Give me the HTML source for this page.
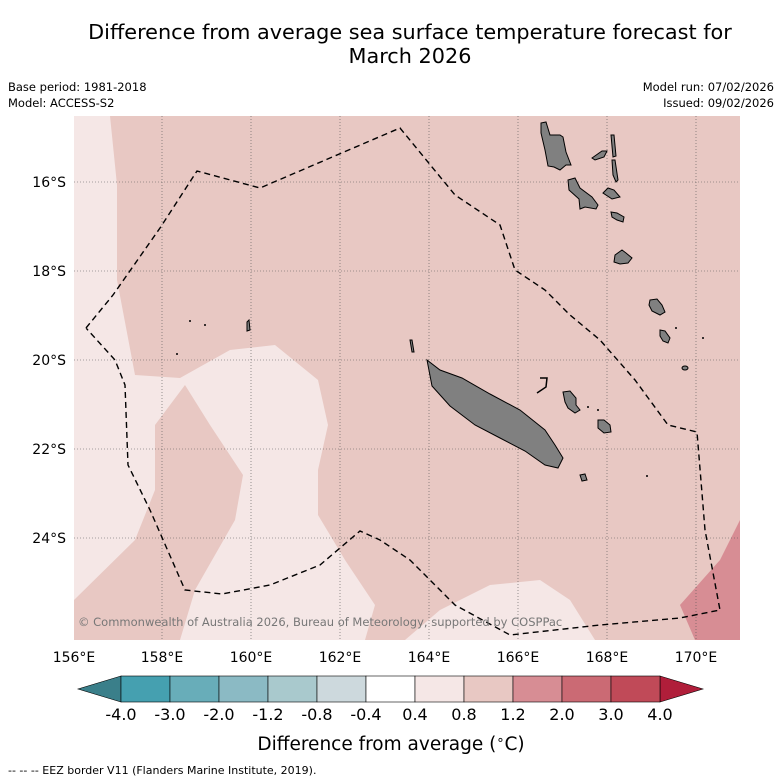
<!DOCTYPE html>
<html><head><meta charset="utf-8"><style>
body{margin:0;background:#fff;font-family:"Liberation Sans","DejaVu Sans",sans-serif;}
svg{display:block}
</style></head><body>
<svg width="781" height="781" viewBox="0 0 781 781" xmlns="http://www.w3.org/2000/svg" font-family="DejaVu Sans, Liberation Sans, sans-serif">
<text x="410" y="39" text-anchor="middle" font-size="20.8">Difference from average sea surface temperature forecast for</text>
<text x="410" y="63" text-anchor="middle" font-size="20.8">March 2026</text>
<text x="8" y="91" font-size="11.5">Base period: 1981-2018</text>
<text x="8" y="107" font-size="11.5">Model: ACCESS-S2</text>
<text x="774" y="91" font-size="11.5" text-anchor="end">Model run: 07/02/2026</text>
<text x="774" y="107" font-size="11.5" text-anchor="end">Issued: 09/02/2026</text>

<g id="map">
<rect x="74" y="116" width="666" height="524" fill="#e8c8c3"/>
<clipPath id="c"><rect x="74" y="116" width="666" height="524"/></clipPath>
<g clip-path="url(#c)">
<polygon fill="#f5e7e6" points="74,116 110,116 117,185 117,280 135,375 180,378 230,350 275,345 318,380 328,425 318,470 318,515 345,560 375,605 365,640 74,640"/>
<polygon fill="#e8c8c3" points="74,600 135,540 155,490 155,425 185,385 210,425 243,475 235,520 195,590 180,640 74,640"/>
<polygon fill="#f5e7e6" points="405,640 440,610 490,585 540,580 570,600 595,640"/>
<polygon fill="#d78d94" points="680,605 720,560 740,520 740,640 695,640"/>
<g stroke="#555" stroke-width="0.6" stroke-dasharray="1,2">
<line x1="162" y1="116" x2="162" y2="640"/><line x1="251" y1="116" x2="251" y2="640"/><line x1="340" y1="116" x2="340" y2="640"/><line x1="429" y1="116" x2="429" y2="640"/><line x1="518" y1="116" x2="518" y2="640"/><line x1="607" y1="116" x2="607" y2="640"/><line x1="696" y1="116" x2="696" y2="640"/>
<line x1="74" y1="182" x2="740" y2="182"/><line x1="74" y1="271" x2="740" y2="271"/><line x1="74" y1="360" x2="740" y2="360"/><line x1="74" y1="449" x2="740" y2="449"/><line x1="74" y1="538" x2="740" y2="538"/>
</g>
<g fill="#808080" stroke="#000" stroke-width="1">
<polygon points="427,360 440,370 462,378 490,394 520,410 545,430 555,445 563,458 558,468 545,465 525,451 500,438 475,425 450,406 432,386"/>
<polygon points="541,123 546,122 550,135 560,135 563,137 566,152 571,165 566,165 560,170 554,167 548,166 545,150 541,133"/>
<polygon points="568,180 575,178 580,188 592,197 598,205 596,209 585,207 580,209 579,199 569,190"/>
<polygon points="592,158 602,151 607,151 604,157 595,160"/>
<polygon points="611,135 614,135 616,156 613,157"/>
<polygon points="612,160 615,160 618,180 616,182 613,175"/>
<polygon points="603,193 608,188 614,190 620,197 612,199"/>
<polygon points="611,212 617,213 624,217 623,222 617,220 612,217"/>
<polygon points="615,255 622,250 626,253 632,258 628,263 620,264 614,262"/>
<polygon points="650,300 657,299 662,305 665,312 660,315 652,311 649,305"/>
<polygon points="660,330 665,331 670,338 668,343 663,341 660,336"/>
<ellipse cx="685" cy="368" rx="3" ry="2"/>
<polygon points="563,392 570,391 576,398 576,405 580,410 575,413 568,408 565,402"/>
<polygon points="598,420 604,420 610,425 611,432 604,433 598,428"/>
<polygon points="580,475 585,474 587,480 582,481"/>
<polygon points="247,322 249,320 250,330 247,331"/>
<polygon points="410,340 412,340 414,352 412,352"/>
</g>
<path d="M540,378 L547,378 L546,387 L537,393" fill="none" stroke="#000" stroke-width="1.5"/>
<g fill="#000"><circle cx="190" cy="321" r="1"/><circle cx="205" cy="325" r="1"/><circle cx="177" cy="354" r="1"/><circle cx="676" cy="328" r="1"/><circle cx="703" cy="338" r="1"/><circle cx="647" cy="476" r="1"/><circle cx="598" cy="410" r="1"/><circle cx="588" cy="407" r="1"/></g>
<polyline fill="none" stroke="#000" stroke-width="1.4" stroke-dasharray="6,4" points="86,328 113,295 160,228 197,171 260,188 400,128 455,195 500,225 515,270 545,290 570,315 600,340 635,380 668,425 697,432 705,530 720,610 680,618 600,625 510,635 455,605 410,560 380,540 360,531 320,565 270,585 222,594 185,590 150,510 128,465 125,385 115,360 86,328"/>
</g>
<text x="78" y="626" font-size="11.5" fill="#777">© Commonwealth of Australia 2026, Bureau of Meteorology, supported by COSPPac</text>
</g>

<g font-size="14">
<text x="66" y="187" text-anchor="end">16°S</text><text x="66" y="276" text-anchor="end">18°S</text><text x="66" y="365" text-anchor="end">20°S</text><text x="66" y="454" text-anchor="end">22°S</text><text x="66" y="543" text-anchor="end">24°S</text>
</g>
<g font-size="14" text-anchor="middle">
<text x="74" y="662">156°E</text><text x="162" y="662">158°E</text><text x="251" y="662">160°E</text><text x="340" y="662">162°E</text><text x="429" y="662">164°E</text><text x="518" y="662">166°E</text><text x="607" y="662">168°E</text><text x="696" y="662">170°E</text>
</g>

<g id="cbar"></g>
<text x="391" y="750" text-anchor="middle" font-size="18.5">Difference from average (<tspan font-size="13" dy="-6">∘</tspan><tspan dy="6">C)</tspan></text>
<text x="8" y="774" font-size="11">--  --  -- EEZ border V11 (Flanders Marine Institute, 2019).</text>
</svg>
<script>
const levelLabels=["-4.0","-3.0","-2.0","-1.2","-0.8","-0.4","0.4","0.8","1.2","2.0","3.0","4.0"];
const boxColors=["#45a0b0","#68adb9","#8bbac4","#a9c9cd","#cdd9dd","#ffffff","#f5e7e6","#e8c8c3","#d78d94","#cb6a74","#c04a58"];
const extColors=["#3a7f8a","#b01e3a"];
const NS="http://www.w3.org/2000/svg";
const g=document.getElementById('cbar');
const x0=121,x1=660,y0=676,y1=702;
const step=(x1-x0)/(levelLabels.length-1);
function bx(i){return x0+i*step;}
const lt=document.createElementNS(NS,'polygon');
lt.setAttribute('points',`${x0},${y0} 78,${(y0+y1)/2} ${x0},${y1}`);
lt.setAttribute('fill',extColors[0]);lt.setAttribute('stroke','#000');lt.setAttribute('stroke-width','0.6');


g.appendChild(lt);
const rt=document.createElementNS(NS,'polygon');
rt.setAttribute('points',`${x1},${y0} 703,${(y0+y1)/2} ${x1},${y1}`);
rt.setAttribute('fill',extColors[1]);rt.setAttribute('stroke','#000');rt.setAttribute('stroke-width','0.6');


g.appendChild(rt);
boxColors.forEach((c,i)=>{
 const r=document.createElementNS(NS,'rect');
 r.setAttribute('x',bx(i));r.setAttribute('y',y0);r.setAttribute('width',step);r.setAttribute('height',y1-y0);
 r.setAttribute('fill',c);r.setAttribute('stroke','#000');r.setAttribute('stroke-width','0.6');
 
 
 g.appendChild(r);
});
levelLabels.forEach((l,i)=>{
 const t=document.createElementNS(NS,'text');
 t.setAttribute('x',bx(i));t.setAttribute('y',720);t.setAttribute('text-anchor','middle');t.setAttribute('font-size','16');
 t.textContent=l;
 
 
 g.appendChild(t);
});
</script>
</body></html>
